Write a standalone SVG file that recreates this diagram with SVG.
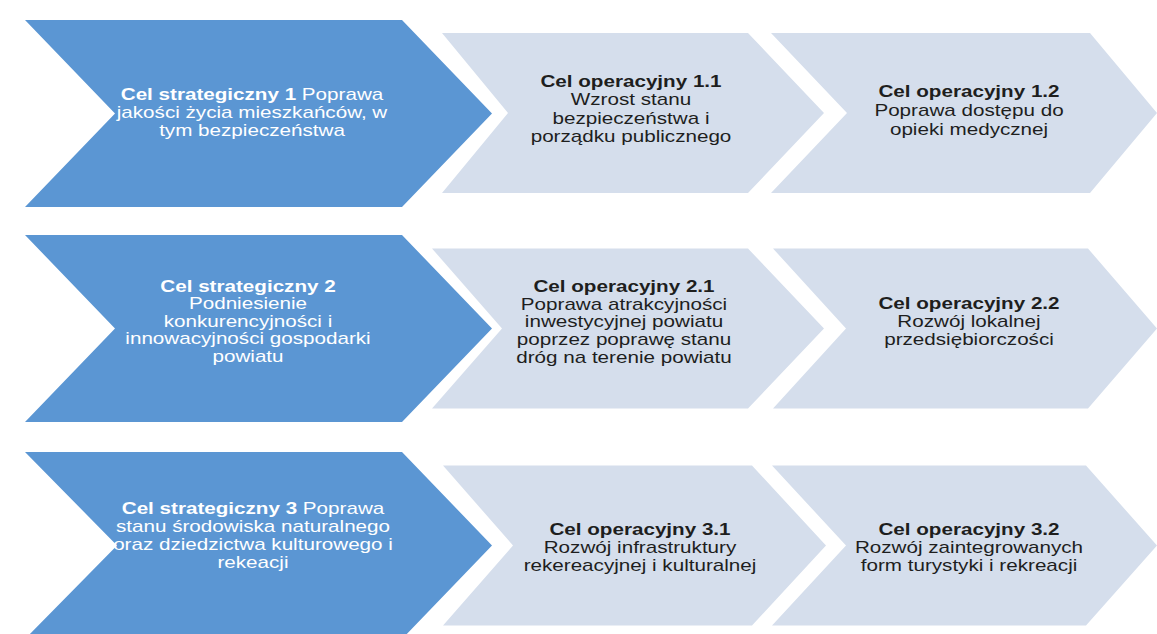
<svg xmlns="http://www.w3.org/2000/svg" width="1157" height="634" viewBox="0 0 1157 634">
<style>
.bg{fill:#ffffff}
.dark{fill:#5B96D3}
.light{fill:#D5DEEC}
.t{font-family:"Liberation Sans",Arial,sans-serif;font-size:16px;text-anchor:middle}
.tw{fill:#ffffff}
.tk{fill:#1e1e1e}
.b{font-weight:bold}
</style>
<rect class="bg" x="0" y="0" width="1157" height="634"/>
<g id="connectors"></g>
<g id="s1">
<polygon class="dark" points="25,20 402,20 492,113.5 402,207 25,207 115,113.5"/>
<text class="t tw" transform="translate(252 0) scale(1.29 1)"><tspan x="0" y="100"><tspan class="b">Cel strategiczny 1</tspan> Poprawa</tspan><tspan x="0" y="118">jakości życia mieszkańców, w</tspan><tspan x="0" y="136">tym bezpieczeństwa</tspan></text>
</g>
<g id="o11">
<polygon class="light" points="442,33 748,33 824,113 748,193 442,193 508,113"/>
<text class="t tk" transform="translate(631 0) scale(1.29 1)"><tspan x="0" y="87" class="b">Cel operacyjny 1.1</tspan><tspan x="0" y="105.5">Wzrost stanu</tspan><tspan x="0" y="124">bezpieczeństwa i</tspan><tspan x="0" y="142.5">porządku publicznego</tspan></text>
</g>
<g id="o12">
<polygon class="light" points="771,33 1090,33 1157,113 1090,193 771,193 847,113"/>
<text class="t tk" transform="translate(969 0) scale(1.29 1)"><tspan x="0" y="97" class="b">Cel operacyjny 1.2</tspan><tspan x="0" y="116">Poprawa dostępu do</tspan><tspan x="0" y="135">opieki medycznej</tspan></text>
</g>
<g id="s2">
<polygon class="dark" points="25,235 402,235 492,328.5 402,422 25,422 115,328.5"/>
<text class="t tw" transform="translate(248 0) scale(1.29 1)"><tspan x="0" y="292" class="b">Cel strategiczny 2</tspan><tspan x="0" y="309.5">Podniesienie</tspan><tspan x="0" y="327">konkurencyjności i</tspan><tspan x="0" y="344.5">innowacyjności gospodarki</tspan><tspan x="0" y="362">powiatu</tspan></text>
</g>
<g id="o21">
<polygon class="light" points="432,248.5 748,248.5 824,328.5 748,408.5 432,408.5 502,328.5"/>
<text class="t tk" transform="translate(624 0) scale(1.29 1)"><tspan x="0" y="292" class="b">Cel operacyjny 2.1</tspan><tspan x="0" y="310">Poprawa atrakcyjności</tspan><tspan x="0" y="327.5">inwestycyjnej powiatu</tspan><tspan x="0" y="345">poprzez poprawę stanu</tspan><tspan x="0" y="363">dróg na terenie powiatu</tspan></text>
</g>
<g id="o22">
<polygon class="light" points="773,248.5 1088,248.5 1157,328.5 1088,408.5 773,408.5 846,328.5"/>
<text class="t tk" transform="translate(969 0) scale(1.29 1)"><tspan x="0" y="309" class="b">Cel operacyjny 2.2</tspan><tspan x="0" y="327">Rozwój lokalnej</tspan><tspan x="0" y="345">przedsiębiorczości</tspan></text>
</g>
<g id="s3">
<polygon class="dark" points="25,452 402,452 492,545.5 402,639 25,639 117,545.5"/>
<text class="t tw" transform="translate(253 0) scale(1.29 1)"><tspan x="0" y="514"><tspan class="b">Cel strategiczny 3</tspan> Poprawa</tspan><tspan x="0" y="532">stanu środowiska naturalnego</tspan><tspan x="0" y="550">oraz dziedzictwa kulturowego i</tspan><tspan x="0" y="568">rekeacji</tspan></text>
</g>
<g id="o31">
<polygon class="light" points="443,465.5 752,465.5 826,545.5 752,625.5 443,625.5 513,545.5"/>
<text class="t tk" transform="translate(640 0) scale(1.29 1)"><tspan x="0" y="535" class="b">Cel operacyjny 3.1</tspan><tspan x="0" y="553">Rozwój infrastruktury</tspan><tspan x="0" y="571">rekereacyjnej i kulturalnej</tspan></text>
</g>
<g id="o32">
<polygon class="light" points="772,465.5 1086,465.5 1157,545.5 1086,625.5 772,625.5 846,545.5"/>
<text class="t tk" transform="translate(969 0) scale(1.29 1)"><tspan x="0" y="535" class="b">Cel operacyjny 3.2</tspan><tspan x="0" y="553">Rozwój zaintegrowanych</tspan><tspan x="0" y="571">form turystyki i rekreacji</tspan></text>
</g>
</svg>
